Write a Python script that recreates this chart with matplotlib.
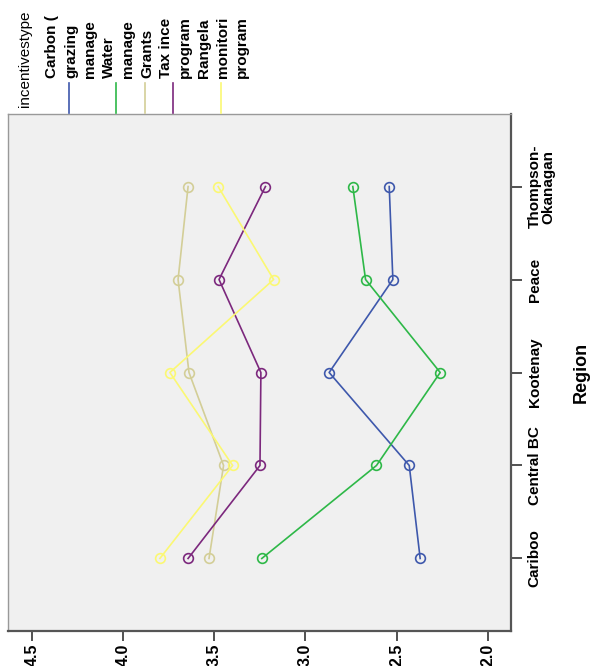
import matplotlib.pyplot as plt
from matplotlib.lines import Line2D

plt.rcParams['font.family'] = ['Liberation Sans', 'DejaVu Sans']

# data
regions = ['Cariboo', 'Central BC', 'Kootenay', 'Peace', 'Thompson-\nOkanagan']
carbon = [2.37, 2.43, 2.87, 2.52, 2.54]
water = [3.24, 2.61, 2.26, 2.67, 2.74]
grants = [3.53, 3.45, 3.64, 3.70, 3.645]
tax = [3.645, 3.25, 3.245, 3.475, 3.22]
rangeland = [3.80, 3.40, 3.745, 3.175, 3.48]

legend_labels = [['Carbon (', 'grazing', 'manage'],
                 ['Water', 'manage'],
                 ['Grants'],
                 ['Tax ince', 'program'],
                 ['Rangela', 'monitori', 'program']]
colors = ['#3E58AC', '#2EB848', '#D3CE97', '#7C287D', '#FBF873']
xticks = [4.5, 4.0, 3.5, 3.0, 2.5, 2.0]

# -------------------------------------------------
W, H = 590, 666
fig = plt.figure(figsize=(W / 100, H / 100), dpi=100)
ax = fig.add_axes([7.5 / W, 1 - 631 / H, (511 - 7.5) / W, (631 - 114) / H])
ax.set_facecolor('#F0F0F0')

pos = list(range(len(regions)))
for vals, col in zip([carbon, water, grants, tax, rangeland], colors):
    ax.plot(vals, pos, color=col, lw=1.2, marker='o', ms=7,
            mfc='none', mec=col, mew=1.2)

ax.set_xlim(4.637, 1.871)
ax.set_ylim(-0.78, 4.78)

ax.set_xticks(xticks)
ax.set_xticklabels(['%.1f' % t for t in xticks], rotation=90,
                   fontsize=11.5, fontweight='bold')
ax.tick_params(axis='x', length=7, width=1.2, pad=2, color='#333333')

ax.yaxis.tick_right()
ax.set_yticks(pos)
ax.set_yticklabels(regions, rotation=90, va='center', ha='left',
                   multialignment='center', fontsize=11, fontweight='bold',
                   linespacing=1.0)
ax.tick_params(axis='y', length=8, width=1.2, pad=4, color='#333333')

for side in ['left', 'top']:
    ax.spines[side].set_color('#999999')
    ax.spines[side].set_linewidth(1)
for side in ['right', 'bottom']:
    ax.spines[side].set_color('#555555')
    ax.spines[side].set_linewidth(1.6)

fig.text(581 / W, 1 - 372 / H, 'Region', rotation=90, ha='center',
         va='center', fontsize=13, fontweight='bold')

# legend across the top
fig.text(25 / W, 1 - 107 / H, 'incentivestype', rotation=90,
         ha='center', va='bottom', fontsize=11)
x = 52
for lines, col in zip(legend_labels, colors):
    cols = []
    for txt in lines:
        fig.text(x / W, 1 - 78 / H, txt, rotation=90, ha='center',
                 va='bottom', fontsize=11, fontweight='bold')
        cols.append(x)
        x += 19
    lx = sum(cols) / len(cols) - 2.5
    fig.add_artist(Line2D([lx / W, lx / W], [1 - 83 / H, 1 - 113 / H],
                          transform=fig.transFigure, color=col, lw=1.2))

fig.savefig('out.png', dpi=100)
